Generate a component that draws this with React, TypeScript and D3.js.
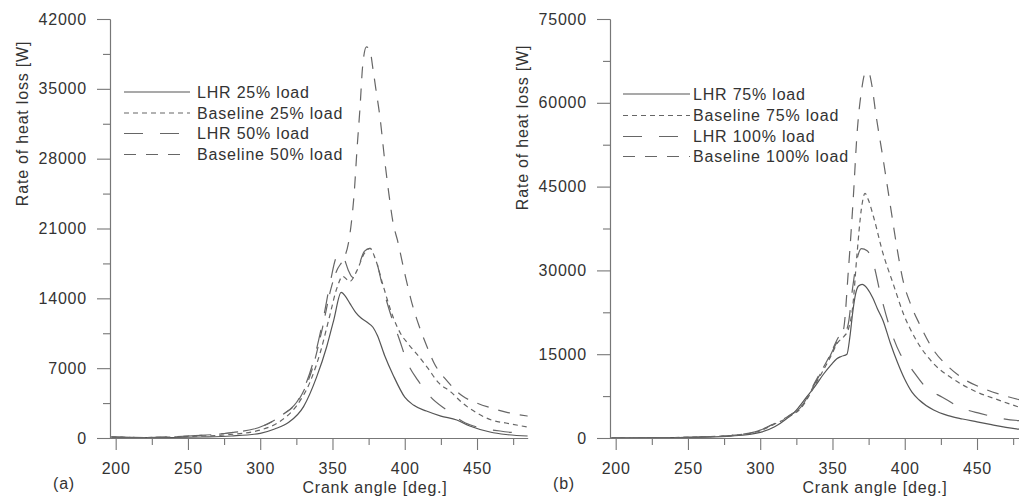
import React, { useEffect, useRef } from "react";
import * as d3 from "d3";

// ---- panel (a): rate of heat loss [W] vs crank angle [deg]
const lhr25Angle = [197, 220, 240, 260, 280, 300, 310, 320, 330, 339, 346, 351, 356, 359, 362, 366, 370, 374, 378, 381, 386, 392, 400, 406, 415, 425, 436, 445, 459, 470, 485];
const lhr25Heat = [100, 30, 50, 100, 200, 470, 900, 1600, 3150, 6100, 9150, 11900, 14600, 14200, 13500, 12600, 12000, 11600, 11100, 10300, 8300, 6300, 4100, 3300, 2700, 2200, 1800, 1200, 600, 350, 200];

const base25Angle = [197, 220, 250, 275, 300, 315, 325, 335, 342, 348, 353, 357, 362, 367, 372, 376, 380, 385, 392, 397, 402, 409, 416, 423, 432, 440, 450, 460, 470, 485];
const base25Heat = [100, 50, 150, 300, 800, 1800, 3200, 5800, 8800, 12200, 15000, 16200, 15700, 16800, 18500, 19000, 17800, 15300, 12100, 10500, 9500, 8300, 7000, 5600, 4600, 3500, 2500, 1800, 1500, 1100];

const lhr50Angle = [197, 220, 250, 275, 300, 315, 327, 337, 343, 349, 352, 355, 358, 361, 364, 368, 372, 376, 380, 385, 390, 396, 402, 409, 418, 429, 442, 450, 466, 485];
const lhr50Heat = [100, 50, 200, 450, 1100, 2300, 4000, 7800, 11500, 16000, 17900, 18500, 18000, 16800, 16100, 17200, 18700, 19000, 17900, 15000, 12500, 10000, 7500, 5800, 4100, 2800, 1500, 1100, 700, 400];

const base50Angle = [197, 220, 250, 275, 300, 315, 327, 337, 343, 349, 353, 357, 361, 363, 365, 367, 369, 371, 373.5, 376, 378, 380, 383, 386, 389, 392, 395, 400, 405, 410, 415, 420, 430, 440, 450, 460, 470, 485];
const base50Heat = [100, 50, 200, 450, 1100, 2300, 3900, 7400, 11000, 15000, 16800, 17800, 19500, 21500, 24500, 29000, 33000, 37500, 39200, 38800, 37000, 35000, 32000, 28000, 24500, 21500, 19800, 16500, 13500, 11200, 9300, 7600, 5600, 4200, 3500, 3000, 2600, 2200];

// ---- panel (b)
const lhr75Angle = [197, 230, 260, 280, 300, 310, 318, 325, 332, 338, 344, 349, 353, 356, 360, 362, 364, 366, 368, 370.5, 374, 378, 381, 385, 390, 395, 400, 405, 410, 420, 430, 440, 450, 460, 470, 485];
const lhr75Heat = [0, 50, 150, 350, 1000, 2000, 3400, 5000, 7300, 9300, 11500, 13100, 14200, 14600, 15000, 18000, 22500, 25800, 27200, 27500, 26800, 25000, 23200, 21000, 17000, 13500, 10500, 8200, 6800, 5000, 4000, 3400, 2900, 2400, 1900, 1400];

const base75Angle = [197, 230, 260, 280, 300, 310, 320, 328, 339, 348, 354, 358, 361, 364, 367, 370, 372.5, 375, 378.4, 385, 392, 399, 408, 420, 431.5, 447.6, 466, 485];
const base75Heat = [0, 50, 200, 450, 1300, 2500, 3800, 5300, 10000, 14200, 17200, 18200, 19500, 23500, 33000, 41000, 43800, 42500, 39600, 33000, 27600, 22300, 17500, 13300, 10900, 8500, 6700, 5000];

const lhr100Angle = [197, 230, 260, 280, 300, 310, 320, 328, 339, 348, 354, 358, 361, 364, 367, 370, 374, 378, 383, 390, 397, 404, 415, 426, 440, 452, 467, 485];
const lhr100Heat = [0, 50, 200, 450, 1400, 2600, 4000, 5500, 10300, 14500, 17500, 18500, 20500, 27000, 32000, 33900, 33500, 31500, 26000, 19500, 15000, 12600, 9000, 7300, 5300, 4400, 3500, 3000];

const base100Angle = [197, 230, 260, 280, 300, 310, 320, 328, 339, 348, 354, 357.5, 361, 364.4, 367, 370, 372.6, 375, 377, 380, 385, 388, 391, 394, 399, 404, 410, 420, 430, 440, 455, 470, 485];
const base100Heat = [0, 50, 200, 450, 1400, 2600, 4000, 5500, 10500, 14700, 18000, 19300, 30000, 43000, 54500, 62000, 65300, 65500, 63500, 58000, 50000, 45000, 40000, 35000, 28000, 24000, 20500, 15700, 12800, 10700, 8800, 7500, 6500];

// ---- ticks
const angleTicks = [200, 250, 300, 350, 400, 450];
const angleMinor = [225, 275, 325, 375, 425, 475];
const heatTicksA = [0, 7000, 14000, 21000, 28000, 35000, 42000];
const heatMinorA = [3500, 10500, 17500, 24500, 31500, 38500];
const heatTicksB = [0, 15000, 30000, 45000, 60000, 75000];
const heatMinorB = [7500, 22500, 37500, 52500, 67500];

const FONT = "'Liberation Sans', Arial, Helvetica, sans-serif";
const DASH = { solid: null, short: "5,4", gap: "19,17", long: "12,10" };

const panelA = {
  dx: 0,
  yMax: 42000,
  ticks: heatTicksA,
  minor: heatMinorA,
  tag: "(a)",
  titleY: 123.5,
  legend: { x0: 124, x1: 190, tx: 197, rows: [92, 113, 133.5, 154.5] },
  series: [
    { name: "LHR 25% load", angle: lhr25Angle, heat: lhr25Heat, dash: "solid" },
    { name: "Baseline 25% load", angle: base25Angle, heat: base25Heat, dash: "short" },
    { name: "LHR 50% load", angle: lhr50Angle, heat: lhr50Heat, dash: "gap" },
    { name: "Baseline 50% load", angle: base50Angle, heat: base50Heat, dash: "long" },
  ],
};

const panelB = {
  dx: 500,
  yMax: 75000,
  ticks: heatTicksB,
  minor: heatMinorB,
  tag: "(b)",
  titleY: 127.5,
  legend: { x0: 123, x1: 190, tx: 193, rows: [94, 115.5, 136.5, 156.5] },
  series: [
    { name: "LHR 75% load", angle: lhr75Angle, heat: lhr75Heat, dash: "solid" },
    { name: "Baseline 75% load", angle: base75Angle, heat: base75Heat, dash: "short" },
    { name: "LHR 100% load", angle: lhr100Angle, heat: lhr100Heat, dash: "gap" },
    { name: "Baseline 100% load", angle: base100Angle, heat: base100Heat, dash: "long" },
  ],
};

const styleText = (sel) =>
  sel.selectAll("text")
    .attr("font-family", FONT)
    .attr("font-size", 16)
    .attr("letter-spacing", 0.8)
    .attr("fill", "#333");

const styleAxis = (sel) => {
  sel.selectAll("path, line").attr("stroke", "#777").attr("stroke-width", 1.1);
  styleText(sel);
};

function drawPanel(svg, p) {
  const x = d3.scaleLinear().domain([196, 485]).range([p.dx + 109.9, p.dx + 527.6]);
  const y = d3.scaleLinear().domain([0, p.yMax]).range([438, 19]);
  const g = svg.append("g");

  // curves first, axes on top
  const line = d3.line().x(d => x(d[0])).y(d => y(d[1])).curve(d3.curveMonotoneX);
  p.series.forEach(s => {
    g.append("path")
      .attr("d", line(d3.zip(s.angle, s.heat)))
      .attr("fill", "none")
      .attr("stroke", s.dash === "solid" ? "#555" : "#666")
      .attr("stroke-width", 1.2)
      .attr("stroke-dasharray", DASH[s.dash]);
  });

  // x axis
  g.append("g").attr("transform", "translate(0,438)")
    .call(d3.axisBottom(x).tickValues(angleMinor).tickSize(7).tickSizeOuter(0).tickFormat(() => ""))
    .call(styleAxis);
  g.append("g").attr("transform", "translate(0,438)")
    .call(d3.axisBottom(x).tickValues(angleTicks).tickSize(12).tickSizeOuter(0).tickPadding(13))
    .call(styleAxis);

  // y axis
  g.append("g").attr("transform", `translate(${p.dx + 110},0)`)
    .call(d3.axisLeft(y).tickValues(p.minor).tickSize(7).tickSizeOuter(0).tickFormat(() => ""))
    .call(styleAxis);
  g.append("g").attr("transform", `translate(${p.dx + 110},0)`)
    .call(d3.axisLeft(y).tickValues(p.ticks).tickSize(13).tickSizeOuter(0).tickPadding(10).tickFormat(d3.format("d")))
    .call(styleAxis);

  // titles
  const labels = g.append("g");
  labels.append("text")
    .attr("transform", `translate(${p.dx + 22},${p.titleY}) rotate(-90)`)
    .attr("text-anchor", "middle")
    .attr("dy", "0.35em")
    .text("Rate of heat loss [W]");
  labels.append("text")
    .attr("x", p.dx + 375).attr("y", 493)
    .attr("text-anchor", "middle")
    .text("Crank angle [deg.]");
  labels.append("text")
    .attr("x", p.dx + 64).attr("y", 489)
    .attr("text-anchor", "middle")
    .text(p.tag);

  // legend
  const L = p.legend;
  const leg = labels.selectAll("g.leg").data(p.series).join("g").attr("class", "leg");
  leg.append("line")
    .attr("x1", p.dx + L.x0).attr("x2", p.dx + L.x1)
    .attr("y1", (d, i) => L.rows[i]).attr("y2", (d, i) => L.rows[i])
    .attr("stroke", d => d.dash === "solid" ? "#555" : "#666")
    .attr("stroke-width", 1.2)
    .attr("stroke-dasharray", d => DASH[d.dash]);
  leg.append("text")
    .attr("x", p.dx + L.tx).attr("y", (d, i) => L.rows[i])
    .attr("dy", "0.35em")
    .text(d => d.name);

  styleText(labels);
}

const App = () => {
  const ref = useRef(null);

  useEffect(() => {
    const svg = d3.select(ref.current);
    svg.selectAll("*").remove();
    drawPanel(svg, panelA);
    drawPanel(svg, panelB);
  }, []);

  return (
    <div>
      <svg ref={ref} width={1019} height={499}
        style={{ position: "absolute", left: 0, top: 0, background: "#fff" }} />
    </div>
  );
};

export default App;
